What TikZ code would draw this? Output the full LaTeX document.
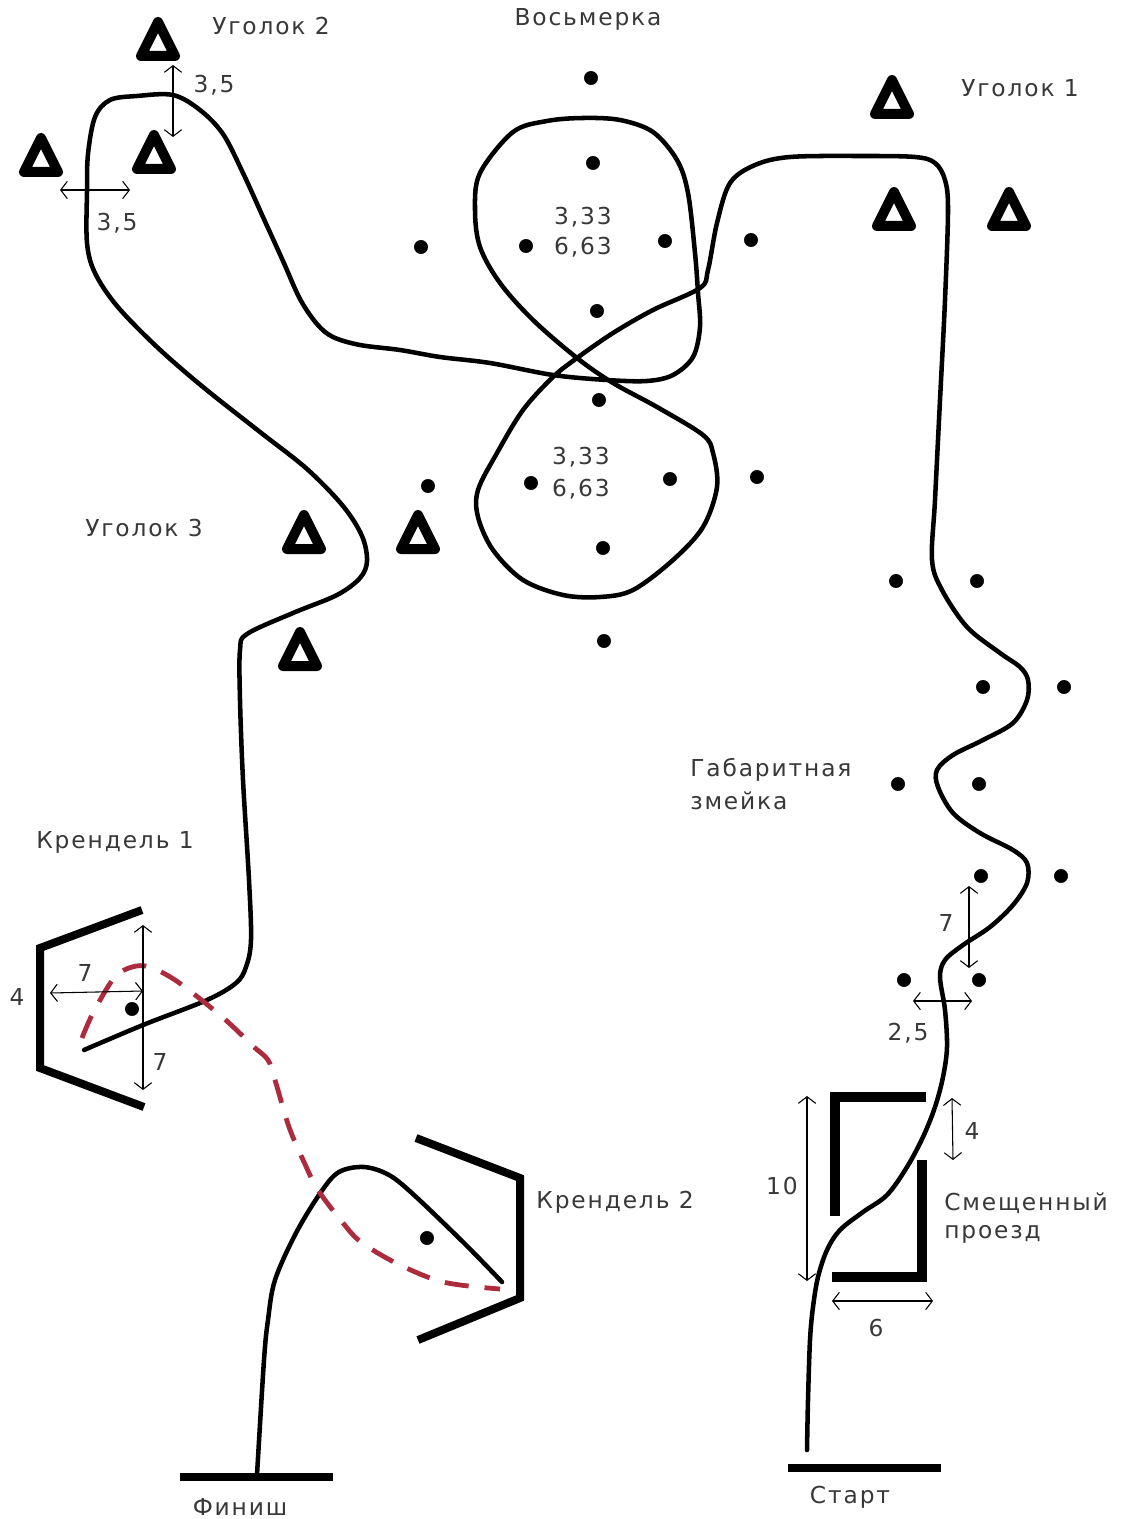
\documentclass[tikz,border=0pt]{standalone}
\usepackage{fontspec}
\setmainfont[LetterSpace=8]{DejaVu Sans}
\usetikzlibrary{arrows.meta}
\definecolor{routered}{RGB}{172,44,62}
\tikzset{
route/.style={line width=3.4pt, line join=round, line cap=round},
redroute/.style={line width=3.6pt, draw=routered, dash pattern=on 18pt off 12pt},
gate/.style={line width=6pt, miter limit=10},
cone/.style={line width=7.5pt, line join=round},
dim/.style={line width=.8pt, {Straight Barb[length=5pt,width=13pt]}-{Straight Barb[length=5pt,width=13pt]}},
txt/.style={font=\fontsize{17.5}{20}\selectfont, text=black!78, inner sep=0pt}
}
\begin{document}
\begin{tikzpicture}[x=.75pt,y=-.75pt]
\useasboundingbox (0,0) rectangle (1121,1519);
% route
\draw[route] plot[smooth,tension=.55] coordinates {(807,1450) (808,1400) (810,1340) (813,1307) (818,1277)
(827,1250) (840,1230) (863,1212) (887,1195) (907,1167) (923,1137) (935,1107) (943,1077) (947,1047) (945,1010)
(940,977) (945,960) (963,945) (990,927) (1013,905) (1027,883) (1027,863) (1013,850) (980,833) (953,813)
(938,787) (937,770) (953,755) (983,740) (1013,723) (1027,700) (1028,680) (1020,667) (1000,653) (967,627)
(942,590) (932,560) (935,500) (940,400) (945,300) (948,210) (945,180) (935,163) (915,157) (860,156)
(790,157) (755,165) (730,183) (717,223) (708,270) (700,288) (653,310) (613,333) (577,358) (553,377)
(523,410) (497,453) (478,490) (478,517) (493,550) (523,580) (563,595) (600,597) (633,590) (673,560)
(703,527) (717,487) (713,453) (703,435) (657,407) (613,383) (577,358) (533,320) (500,283) (480,247)
(475,210) (480,173) (513,132) (547,121) (583,118) (620,120) (653,132) (677,160) (688,193) (695,253)
(698,293) (700,327) (693,357) (673,375) (647,381) (607,380) (553,375) (490,363) (440,357) (400,350)
(360,345) (333,337) (317,324) (300,299) (283,261) (263,217) (243,173) (223,134) (200,110) (173,95)
(137,96) (110,100) (95,117) (88,154) (87,191) (87,243) (95,273) (117,306) (157,347) (203,387) (260,432)
(307,469) (343,506) (362,536) (367,561) (360,578) (337,595) (293,613) (247,634) (240,650) (240,700)
(243,780) (249,880) (251,940) (246,967) (236,983) (207,1000) (143,1025) (84,1050)};
\draw[route] plot[smooth,tension=.55] coordinates {(502,1282) (464,1243) (414,1195) (389,1175) (364,1167)
(339,1172) (321,1192) (296,1233) (275,1280) (268,1320) (264,1360) (257,1475)};
\draw[redroute] plot[smooth,tension=.55] coordinates {(82,1038) (93,1013) (114,978) (132,967) (150,967)
(175,980) (204,1002) (229,1023) (254,1047) (268,1060) (275,1080) (289,1127) (304,1162) (318,1190) (343,1223)
(361,1242) (396,1263) (443,1282) (500,1289)};
% start, finish
\draw[gate] (180,1477)--(333,1477);
\draw[gate] (788,1468)--(941,1468);
% krendel gates
\draw[gate] (142,910)--(40,948)--(40,1068)--(144,1107);
\draw[gate] (416,1138)--(520,1178)--(520,1298)--(418,1340);
% offset passage
\draw[gate,line width=7pt] (835,1216)--(835,1097)--(926,1097);
\draw[gate,line width=7pt] (922,1160)--(922,1277)--(832,1277);
% cones
\foreach \x/\y in {158/22,41/138,154/135,892/80,894/192,1009/192,304/515,418/515,300/632}
  \draw[cone] (\x,\y)--++(-17,34)--++(34,0)--cycle;
% dots
\foreach \x/\y in {591/78,593/163,421/247,526/246,665/241,751/240,597/311,599/400,428/486,531/483,
670/479,757/477,603/548,604/641,896/581,977/581,983/687,1064/687,898/784,979/784,981/876,1061/876,
904/980,979/980,132/1009,427/1238}
  \filldraw (\x,\y) circle[radius=5pt];
% sizes
\draw[dim] (173,65)--(173,137);
\draw[dim] (60,190)--(130,190);
\draw[dim] (143,925)--(143,1090);
\draw[dim] (50,993)--(143,991);
\draw[dim] (969,886)--(969,968);
\draw[dim] (913,1001)--(972,1001);
\draw[dim] (952,1098)--(953,1160);
\draw[dim] (807,1096)--(807,1281);
\draw[dim] (832,1301)--(933,1301);
% labels
\node[txt] (corner2) at (271,26) {Уголок 2};
\node[txt] (eight) at (588,19) {Восьмерка};
\node[txt] (corner1) at (1020,88) {Уголок 1};
\node[txt] (corner3) at (144,528) {Уголок 3};
\node[txt] (eightA) at (583,217) {3,33};
\node[txt] (eightB) at (583,247) {6,63};
\node[txt] (eightC) at (581,457) {3,33};
\node[txt] (eightD) at (581,489) {6,63};
\node[txt] (krendel1) at (115,842) {Крендель 1};
\node[txt] (krendel2) at (615,1202) {Крендель 2};
\node[txt,anchor=west] (snakeA) at (690,770) {Габаритная};
\node[txt,anchor=west] (snakeB) at (690,801) {змейка};
\node[txt,anchor=west] (passA) at (944,1203) {Смещенный};
\node[txt,anchor=west] (passB) at (944,1234) {проезд};
\node[txt] (finish) at (240,1507) {Финиш};
\node[txt] (start) at (850,1497) {Старт};
\node[txt] (sizeA) at (214,85) {3,5};
\node[txt] (sizeB) at (117,223) {3,5};
\node[txt] (sizeC) at (85,973) {7};
\node[txt] (sizeD) at (160,1062) {7};
\node[txt] (sizeE) at (17,997) {4};
\node[txt] (sizeF) at (946,923) {7};
\node[txt] (sizeG) at (908,1033) {2,5};
\node[txt] (sizeH) at (972,1131) {4};
\node[txt] (sizeI) at (782,1186) {10};
\node[txt] (sizeJ) at (876,1328) {6};
\end{tikzpicture}
\end{document}
